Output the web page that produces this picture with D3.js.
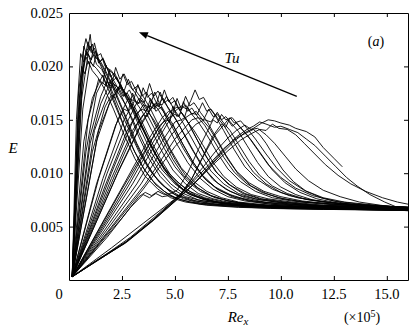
<!DOCTYPE html>
<html>
<head>
<meta charset="utf-8">
<script src="https://cdn.jsdelivr.net/npm/d3@7"></script>
<style>
  html, body { margin: 0; padding: 0; background: #fff; }
  svg { display: block; }
</style>
</head>
<body>
<svg id="chart" width="417" height="328"></svg>
<script>
// Axis ticks
const xTicks = [0, 2.5, 5, 7.5, 10, 12.5, 15];
const xTickLabels = ["0", "2.5", "5.0", "7.5", "10.0", "12.5", "15.0"];
const yTicks = [0.005, 0.010, 0.015, 0.020, 0.025];
const yTickLabels = ["0.005", "0.010", "0.015", "0.020", "0.025"];

// Energy profiles E(Re_x), Re_x in units of 1e5.
// Highest turbulence intensity: peaks near Re_x ~ 1
const groupA = [
  [[0.15,.0003],[0.35,.0150],[0.55,.0212],[0.7,.0204],[0.85,.0214],[1.05,.0203],[1.3,.0198],[1.6,.0190],[2.0,.0172],[2.5,.0148],[3.0,.0124],[3.5,.0105],[4.0,.0092],[4.5,.0083],[5.0,.0077],[5.7,.0073],[7,.0070],[9,.0068],[11,.0067],[13.5,.0066],[16,.0065]],
  [[0.15,.0003],[0.45,.0160],[0.65,.0212],[0.8,.0226],[0.95,.0215],[1.1,.0221],[1.25,.0208],[1.45,.0206],[1.75,.0195],[2.2,.0176],[2.7,.0152],[3.2,.0128],[3.7,.0108],[4.2,.0093],[4.8,.0082],[5.4,.0076],[6.2,.0072],[7.5,.0070],[9.5,.0068],[12,.0067],[14,.0066],[16,.0066]],
  [[0.15,.0003],[0.5,.0155],[0.75,.0210],[0.9,.0217],[1.0,.0230],[1.1,.0212],[1.25,.0214],[1.4,.0203],[1.6,.0207],[1.9,.0194],[2.3,.0180],[2.8,.0158],[3.3,.0134],[3.8,.0113],[4.3,.0097],[4.9,.0085],[5.5,.0078],[6.3,.0074],[7.5,.0071],[9,.0069],[11,.0068],[13,.0067],[16,.0066]],
  [[0.15,.0003],[0.7,.0219],[0.85,.0210],[1.0,.0219],[1.15,.0211],[1.35,.0207],[1.6,.0199],[2.0,.0183],[2.5,.0160],[3.0,.0135],[3.5,.0114],[4.0,.0098],[4.6,.0086],[5.2,.0079],[6.0,.0074],[7,.0071],[8.5,.0069],[10.5,.0068],[13,.0067],[16,.0066]],
  [[0.15,.0003],[0.6,.0170],[0.9,.0212],[1.05,.0206],[1.2,.0222],[1.35,.0210],[1.5,.0212],[1.7,.0200],[2.0,.0196],[2.4,.0183],[2.9,.0163],[3.4,.0140],[3.9,.0119],[4.4,.0103],[5.0,.0090],[5.6,.0081],[6.3,.0076],[7.2,.0072],[8.5,.0070],[10,.0069],[12,.0068],[14,.0067],[16,.0066]],
  [[0.15,.0003],[0.55,.0185],[0.75,.0208],[0.9,.0223],[1.05,.0213],[1.2,.0217],[1.4,.0205],[1.7,.0192],[2.1,.0170],[2.6,.0144],[3.1,.0120],[3.6,.0102],[4.1,.0089],[4.7,.0080],[5.3,.0075],[6.2,.0071],[7.5,.0069],[9.5,.0067],[12,.0066],[14,.0066],[16,.0065]],
  [[0.15,.0003],[0.65,.0160],[1.0,.0205],[1.15,.0200],[1.3,.0213],[1.45,.0204],[1.6,.0208],[1.8,.0198],[2.1,.0193],[2.5,.0180],[3.0,.0162],[3.5,.0141],[4.0,.0121],[4.5,.0105],[5.1,.0092],[5.7,.0083],[6.4,.0077],[7.3,.0073],[8.5,.0071],[10,.0069],[12,.0068],[14,.0067],[16,.0066]],
  [[0.15,.0003],[0.45,.0175],[0.6,.0200],[0.75,.0193],[0.9,.0205],[1.1,.0196],[1.35,.0190],[1.7,.0178],[2.1,.0160],[2.6,.0136],[3.1,.0114],[3.6,.0097],[4.2,.0085],[4.8,.0077],[5.5,.0073],[6.5,.0070],[8,.0068],[10,.0067],[12.5,.0066],[16,.0065]],
  [[0.15,.0003],[0.4,.0140],[0.6,.0190],[0.8,.0209],[0.95,.0202],[1.15,.0211],[1.3,.0202],[1.55,.0197],[1.9,.0183],[2.3,.0164],[2.8,.0142],[3.3,.0120],[3.8,.0103],[4.4,.0089],[5.0,.0080],[5.7,.0075],[6.8,.0071],[8.5,.0069],[11,.0067],[13.5,.0066],[16,.0065]]
];

// Peaks between Re_x ~ 1.5 and 3
const groupB = [
  [[0.15,.0003],[0.8,.0120],[1.3,.0175],[1.55,.0185],[1.75,.0182],[1.9,.0196],[2.05,.0186],[2.25,.0190],[2.5,.0180],[2.8,.0171],[3.2,.0155],[3.7,.0134],[4.2,.0114],[4.7,.0098],[5.3,.0086],[5.9,.0079],[6.6,.0074],[7.5,.0071],[9,.0069],[11,.0068],[13,.0067],[16,.0066]],
  [[0.15,.0003],[1.0,.0135],[1.5,.0172],[1.8,.0186],[2.0,.0181],[2.2,.0199],[2.4,.0188],[2.6,.0193],[2.85,.0182],[3.1,.0176],[3.5,.0162],[4.0,.0143],[4.5,.0123],[5.0,.0106],[5.6,.0092],[6.2,.0083],[6.9,.0077],[7.8,.0073],[9,.0070],[11,.0068],[13,.0067],[16,.0066]],
  [[0.15,.0003],[1.2,.0140],[1.8,.0172],[2.1,.0184],[2.35,.0179],[2.55,.0193],[2.75,.0183],[2.95,.0186],[3.2,.0176],[3.5,.0168],[3.9,.0152],[4.4,.0132],[4.9,.0113],[5.4,.0098],[6.0,.0087],[6.7,.0079],[7.5,.0074],[8.5,.0071],[10,.0069],[12,.0068],[14,.0067],[16,.0066]],
  [[0.15,.0003],[0.7,.0130],[1.1,.0170],[1.4,.0184],[1.6,.0192],[1.8,.0181],[2.0,.0188],[2.3,.0176],[2.7,.0163],[3.2,.0142],[3.7,.0121],[4.2,.0104],[4.8,.0090],[5.4,.0081],[6.1,.0075],[7,.0072],[8.5,.0069],[10.5,.0068],[13,.0067],[16,.0066]],
  [[0.15,.0003],[1.4,.0140],[2.0,.0170],[2.4,.0180],[2.6,.0177],[2.8,.0188],[3.0,.0178],[3.25,.0182],[3.5,.0172],[3.85,.0160],[4.3,.0142],[4.8,.0122],[5.3,.0105],[5.9,.0092],[6.5,.0083],[7.2,.0077],[8,.0073],[9.5,.0070],[11,.0069],[13,.0068],[16,.0066]],
  [[0.15,.0003],[1.0,.0128],[1.5,.0165],[1.8,.0178],[2.0,.0186],[2.2,.0177],[2.45,.0183],[2.7,.0170],[3.0,.0160],[3.5,.0140],[4.0,.0120],[4.5,.0103],[5.1,.0089],[5.7,.0080],[6.4,.0075],[7.3,.0072],[8.5,.0070],[10,.0068],[12,.0067],[14,.0066],[16,.0066]],
  [[0.15,.0003],[1.3,.0130],[1.9,.0165],[2.2,.0175],[2.4,.0182],[2.6,.0172],[2.85,.0178],[3.1,.0168],[3.45,.0158],[3.9,.0140],[4.4,.0120],[4.9,.0103],[5.5,.0090],[6.1,.0081],[6.8,.0076],[7.7,.0072],[9,.0070],[11,.0068],[13,.0067],[16,.0066]],
  [[0.15,.0003],[0.9,.0150],[1.4,.0188],[1.6,.0184],[1.75,.0201],[1.95,.0190],[2.15,.0194],[2.4,.0183],[2.8,.0170],[3.3,.0150],[3.8,.0128],[4.3,.0110],[4.9,.0094],[5.5,.0083],[6.2,.0077],[7,.0073],[8.2,.0070],[10,.0068],[12,.0067],[14,.0067],[16,.0066]],
  [[0.15,.0003],[1.1,.0120],[1.7,.0162],[2.0,.0173],[2.2,.0170],[2.35,.0180],[2.55,.0172],[2.75,.0175],[3.0,.0166],[3.35,.0152],[3.8,.0133],[4.3,.0114],[4.8,.0098],[5.4,.0087],[6.0,.0079],[6.8,.0074],[7.8,.0071],[9.5,.0069],[12,.0067],[14,.0067],[16,.0066]]
];

// Peaks between Re_x ~ 3 and 4.5
const groupC = [
  [[0.15,.0003],[1.4,.0095],[2.3,.0150],[2.8,.0170],[3.05,.0168],[3.25,.0183],[3.45,.0172],[3.65,.0176],[3.9,.0166],[4.2,.0160],[4.6,.0146],[5.1,.0127],[5.6,.0110],[6.2,.0095],[6.8,.0085],[7.5,.0078],[8.3,.0074],[9.5,.0071],[11,.0069],[13,.0068],[16,.0066]],
  [[0.15,.0003],[1.6,.0095],[2.6,.0150],[3.1,.0168],[3.3,.0165],[3.5,.0180],[3.7,.0171],[3.9,.0175],[4.15,.0165],[4.45,.0158],[4.9,.0142],[5.4,.0123],[5.9,.0107],[6.5,.0093],[7.1,.0084],[7.8,.0078],[8.7,.0074],[10,.0071],[11.5,.0069],[13.5,.0068],[16,.0067]],
  [[0.15,.0003],[1.8,.0100],[2.8,.0150],[3.3,.0170],[3.55,.0166],[3.8,.0184],[4.0,.0172],[4.2,.0177],[4.45,.0168],[4.8,.0158],[5.2,.0145],[5.7,.0126],[6.2,.0109],[6.8,.0094],[7.4,.0085],[8.1,.0079],[9,.0075],[10.5,.0071],[12,.0069],[14,.0068],[16,.0067]],
  [[0.15,.0003],[2.0,.0100],[3.0,.0148],[3.5,.0164],[3.8,.0162],[4.05,.0176],[4.25,.0166],[4.45,.0170],[4.7,.0160],[5.0,.0152],[5.4,.0138],[5.9,.0120],[6.4,.0104],[7.0,.0091],[7.6,.0083],[8.3,.0077],[9.2,.0073],[10.5,.0071],[12,.0069],[14,.0068],[16,.0067]],
  [[0.15,.0003],[2.2,.0100],[3.2,.0145],[3.8,.0163],[4.05,.0160],[4.3,.0176],[4.5,.0166],[4.7,.0169],[4.95,.0160],[5.3,.0150],[5.7,.0136],[6.2,.0118],[6.7,.0102],[7.3,.0090],[8.0,.0081],[8.8,.0076],[9.8,.0073],[11,.0071],[12.5,.0069],[14,.0068],[16,.0067]],
  [[0.15,.0003],[2.3,.0100],[3.4,.0145],[4.0,.0165],[4.25,.0162],[4.5,.0178],[4.7,.0167],[4.9,.0171],[5.15,.0161],[5.5,.0152],[5.9,.0137],[6.4,.0118],[6.9,.0102],[7.5,.0090],[8.2,.0081],[9,.0076],[10,.0073],[11.5,.0070],[13,.0069],[14.5,.0068],[16,.0067]],
  [[0.15,.0003],[1.3,.0090],[2.2,.0145],[2.6,.0160],[2.8,.0158],[3.0,.0175],[3.2,.0165],[3.4,.0168],[3.7,.0158],[4.0,.0150],[4.5,.0132],[5.0,.0113],[5.5,.0098],[6.1,.0086],[6.7,.0079],[7.5,.0074],[8.5,.0071],[10,.0069],[12,.0068],[14,.0067],[16,.0066]],
  [[0.15,.0003],[2.0,.0095],[3.0,.0140],[3.5,.0155],[3.7,.0153],[3.9,.0168],[4.1,.0158],[4.35,.0162],[4.6,.0152],[4.95,.0143],[5.4,.0126],[5.9,.0109],[6.4,.0095],[7.0,.0085],[7.7,.0078],[8.5,.0074],[9.5,.0071],[11,.0069],[13,.0068],[16,.0066]],
  [[0.15,.0003],[1.7,.0088],[2.7,.0138],[3.2,.0156],[3.45,.0160],[3.65,.0158],[3.85,.0170],[4.05,.0162],[4.3,.0165],[4.55,.0156],[4.9,.0146],[5.3,.0130],[5.8,.0112],[6.3,.0098],[6.9,.0087],[7.6,.0080],[8.4,.0075],[9.5,.0072],[11,.0070],[13,.0068],[16,.0067]],
  [[0.15,.0003],[2.4,.0105],[3.5,.0150],[4.1,.0166],[4.4,.0164],[4.6,.0172],[4.8,.0165],[5.0,.0168],[5.25,.0158],[5.6,.0148],[6.0,.0133],[6.5,.0115],[7.0,.0100],[7.6,.0089],[8.3,.0081],[9.1,.0076],[10.2,.0073],[11.7,.0070],[13.5,.0069],[16,.0067]]
];

// Peaks between Re_x ~ 5 and 6.5
const groupD = [
  [[0.15,.0003],[2.6,.0090],[3.8,.0133],[4.4,.0152],[4.7,.0158],[4.9,.0156],[5.1,.0170],[5.3,.0160],[5.5,.0164],[5.8,.0155],[6.1,.0148],[6.5,.0136],[7.0,.0119],[7.5,.0104],[8.1,.0092],[8.8,.0083],[9.6,.0077],[10.5,.0074],[12,.0071],[14,.0069],[16,.0067]],
  [[0.15,.0003],[3.0,.0090],[4.3,.0135],[5.0,.0158],[5.3,.0163],[5.55,.0160],[5.75,.0168],[5.95,.0178],[6.15,.0169],[6.35,.0171],[6.6,.0162],[6.9,.0154],[7.3,.0140],[7.8,.0122],[8.3,.0106],[8.9,.0094],[9.6,.0085],[10.4,.0079],[11.3,.0075],[12.5,.0072],[14,.0070],[16,.0068]],
  [[0.15,.0003],[2.8,.0088],[4.0,.0130],[4.7,.0152],[5.0,.0155],[5.2,.0153],[5.4,.0167],[5.6,.0158],[5.8,.0161],[6.1,.0152],[6.4,.0145],[6.8,.0132],[7.3,.0115],[7.8,.0101],[8.4,.0090],[9.1,.0082],[9.9,.0077],[11,.0073],[12.5,.0071],[14,.0069],[16,.0067]],
  [[0.15,.0003],[3.2,.0090],[4.4,.0130],[5.0,.0148],[5.3,.0150],[5.45,.0152],[5.6,.0162],[5.8,.0155],[6.0,.0158],[6.3,.0150],[6.6,.0143],[7.0,.0130],[7.5,.0113],[8.0,.0099],[8.6,.0088],[9.3,.0081],[10.1,.0076],[11.2,.0073],[12.5,.0071],[14,.0069],[16,.0068]],
  [[0.15,.0003],[3.4,.0090],[4.8,.0135],[5.5,.0152],[5.8,.0156],[6.05,.0155],[6.3,.0166],[6.5,.0158],[6.7,.0160],[7.0,.0152],[7.3,.0145],[7.7,.0132],[8.2,.0115],[8.7,.0101],[9.3,.0090],[10,.0082],[10.8,.0077],[11.8,.0074],[13,.0071],[14.5,.0069],[16,.0068]],
  [[0.15,.0003],[2.5,.0085],[3.7,.0125],[4.3,.0145],[4.6,.0150],[4.75,.0148],[4.9,.0163],[5.1,.0153],[5.3,.0157],[5.6,.0148],[5.9,.0140],[6.3,.0127],[6.8,.0110],[7.3,.0097],[7.9,.0087],[8.6,.0080],[9.4,.0076],[10.5,.0073],[12,.0070],[14,.0069],[16,.0067]],
  [[0.15,.0003],[3.6,.0090],[5.0,.0132],[5.8,.0150],[6.1,.0152],[6.35,.0150],[6.6,.0160],[6.8,.0153],[7.0,.0155],[7.3,.0147],[7.6,.0140],[8.0,.0127],[8.5,.0111],[9.0,.0098],[9.6,.0088],[10.3,.0081],[11.1,.0076],[12,.0073],[13.2,.0071],[14.5,.0069],[16,.0068]],
  [[0.15,.0003],[2.9,.0095],[4.1,.0138],[4.8,.0158],[5.1,.0162],[5.3,.0159],[5.5,.0172],[5.7,.0163],[5.9,.0166],[6.2,.0157],[6.5,.0149],[6.9,.0135],[7.4,.0117],[7.9,.0102],[8.5,.0091],[9.2,.0083],[10,.0078],[11,.0074],[12.5,.0071],[14,.0069],[16,.0067]]
];

// Peaks between Re_x ~ 7 and 7.6, some with a plateau near E = 0.008
const groupE = [
  [[0.15,.0003],[1.5,.0035],[2.5,.0058],[3.3,.0078],[3.6,.0082],[3.9,.0079],[4.2,.0083],[4.5,.0080],[4.8,.0081],[5.1,.0084],[5.6,.0100],[6.1,.0122],[6.5,.0138],[6.8,.0150],[7.0,.0147],[7.2,.0155],[7.4,.0150],[7.7,.0152],[8.0,.0145],[8.4,.0136],[8.9,.0122],[9.4,.0108],[10,.0096],[10.7,.0086],[11.5,.0079],[12.5,.0074],[13.7,.0071],[15,.0069],[16,.0068]],
  [[0.15,.0003],[1.8,.0040],[2.9,.0068],[3.5,.0080],[3.8,.0077],[4.1,.0081],[4.4,.0078],[4.7,.0079],[5.0,.0077],[5.3,.0080],[5.8,.0095],[6.3,.0115],[6.8,.0135],[7.2,.0146],[7.4,.0143],[7.6,.0152],[7.8,.0147],[8.1,.0149],[8.4,.0142],[8.8,.0132],[9.3,.0118],[9.8,.0105],[10.4,.0093],[11.1,.0084],[12,.0077],[13,.0073],[14.5,.0070],[16,.0068]],
  [[0.15,.0003],[3.5,.0085],[5.0,.0125],[6.0,.0146],[6.4,.0150],[6.7,.0148],[7.0,.0157],[7.2,.0150],[7.4,.0153],[7.7,.0146],[8.0,.0139],[8.4,.0126],[8.9,.0110],[9.4,.0097],[10,.0087],[10.7,.0080],[11.5,.0075],[12.5,.0072],[14,.0070],[16,.0068]],
  [[0.15,.0003],[2.0,.0030],[3.5,.0053],[5.2,.0079],[5.8,.0095],[6.4,.0118],[6.9,.0136],[7.3,.0145],[7.5,.0150],[7.7,.0144],[7.9,.0147],[8.2,.0140],[8.6,.0131],[9.1,.0117],[9.6,.0103],[10.2,.0091],[10.9,.0082],[11.7,.0076],[12.7,.0072],[14,.0070],[16,.0068]]
];

// Lowest turbulence intensity: slow laminar rise, peaks near Re_x ~ 8.5-9.5
const groupF = [
  [[0.15,.0003],[1.5,.0021],[2.7,.0036],[4.0,.0057],[5.2,.0078],[5.8,.0088],[6.5,.0103],[7.2,.0118],[7.8,.0130],[8.3,.0138],[8.7,.0142],[9.1,.0147],[9.4,.0150],[9.7,.0149],[10.0,.0147],[10.4,.0145],[10.7,.0142],[11.2,.0139],[11.6,.0134],[12.0,.0124],[12.5,.0114],[12.9,.0106]],
  [[0.15,.0003],[1.4,.0019],[2.7,.0035],[4.0,.0056],[5.2,.0077],[5.9,.0090],[6.6,.0106],[7.3,.0122],[7.9,.0134],[8.4,.0141],[8.7,.0144],[9.0,.0148],[9.3,.0146],[9.7,.0143],[10.0,.0144],[10.4,.0141],[10.8,.0138],[11.2,.0132],[11.6,.0126],[12.1,.0116],[12.6,.0106],[13.1,.0096],[13.6,.0088],[14.2,.0080],[14.9,.0073],[15.5,.0068],[16,.0066]],
  [[0.15,.0003],[1.6,.0022],[2.9,.0040],[4.1,.0060],[5.2,.0079],[5.9,.0093],[6.6,.0108],[7.3,.0123],[7.9,.0133],[8.3,.0137],[8.7,.0141],[9.0,.0136],[9.3,.0128],[9.7,.0115],[10.1,.0103],[10.6,.0092],[11.2,.0083],[11.9,.0077],[12.7,.0073],[13.5,.0070],[14.5,.0068],[16,.0066]],
  [[0.15,.0003],[1.3,.0018],[2.6,.0034],[3.9,.0055],[5.1,.0077],[5.7,.0090],[6.3,.0105],[6.9,.0120],[7.5,.0133],[7.9,.0140],[8.3,.0145],[8.6,.0141],[8.9,.0142],[9.3,.0136],[9.7,.0128],[10.2,.0116],[10.7,.0104],[11.3,.0093],[12,.0084],[12.8,.0078],[13.7,.0073],[14.7,.0070],[16,.0067]],
  [[0.15,.0003],[1.5,.0020],[2.8,.0037],[4.1,.0058],[5.3,.0079],[6.0,.0092],[6.8,.0108],[7.5,.0121],[8.1,.0131],[8.6,.0137],[9.0,.0141],[9.3,.0140],[9.6,.0146],[9.9,.0142],[10.3,.0141],[10.7,.0136],[11.1,.0128],[11.6,.0118],[12.1,.0108],[12.7,.0098],[13.3,.0090],[14,.0083],[14.8,.0077],[15.5,.0073],[16,.0071]]
];

const serif = "'Liberation Serif', 'Times New Roman', serif";
const svg = d3.select("#chart").attr("font-family", serif);
const margin = { left: 69, right: 9, top: 13, bottom: 48 };
const width = 417, height = 328;
const x0 = margin.left, x1 = width - margin.right;
const y0 = height - margin.bottom, y1 = margin.top;

const x = d3.scaleLinear().domain([0, 16]).range([x0, x1]);
const y = d3.scaleLinear().domain([0, 0.025]).range([y0, y1]);

svg.append("rect").attr("width", width).attr("height", height).attr("fill", "#fff");

svg.append("defs").append("clipPath").attr("id", "plotClip")
  .append("rect").attr("x", x0).attr("y", y1).attr("width", x1 - x0).attr("height", y0 - y1);

const line = d3.line().x(d => x(d[0])).y(d => y(d[1]));

const curves = [].concat(groupA, groupB, groupC, groupD, groupE, groupF);
svg.append("g").attr("clip-path", "url(#plotClip)")
  .selectAll("path").data(curves).join("path")
  .attr("d", line)
  .attr("fill", "none")
  .attr("stroke", "#000")
  .attr("stroke-width", 0.9)
  .attr("stroke-linejoin", "round");

// Frame with inward ticks on all four sides
const tickLen = 4;
const xAxisB = d3.axisBottom(x).tickValues(xTicks.slice(1)).tickSizeInner(-tickLen).tickSizeOuter(0).tickFormat("");
const xAxisT = d3.axisTop(x).tickValues(xTicks.slice(1)).tickSizeInner(-tickLen).tickSizeOuter(0).tickFormat("");
const yAxisL = d3.axisLeft(y).tickValues(yTicks.slice(0, -1)).tickSizeInner(-tickLen).tickSizeOuter(0).tickFormat("");
const yAxisR = d3.axisRight(y).tickValues(yTicks.slice(0, -1)).tickSizeInner(-tickLen).tickSizeOuter(0).tickFormat("");

svg.append("g").attr("transform", `translate(0,${y0})`).call(xAxisB);
svg.append("g").attr("transform", `translate(0,${y1})`).call(xAxisT);
svg.append("g").attr("transform", `translate(${x0},0)`).call(yAxisL);
svg.append("g").attr("transform", `translate(${x1},0)`).call(yAxisR);
svg.selectAll(".domain").attr("stroke", "#000").attr("stroke-width", 1);
svg.selectAll(".tick line").attr("stroke", "#000").attr("stroke-width", 1);

// Tick labels
const fs = 14.5;
svg.append("g").selectAll("text").data(xTicks).join("text")
  .attr("font-family", serif)
  .attr("x", (d, i) => i === 0 ? x(d) - 10 : x(d))
  .attr("y", y0 + 19)
  .attr("text-anchor", "middle")
  .attr("font-size", fs)
  .text((d, i) => xTickLabels[i]);

svg.append("g").selectAll("text").data(yTicks).join("text")
  .attr("font-family", serif)
  .attr("x", x0 - 6)
  .attr("y", d => y(d) + 5)
  .attr("text-anchor", "end")
  .attr("font-size", fs)
  .text((d, i) => yTickLabels[i]);

// Axis titles
svg.append("text").attr("font-family", serif).attr("x", 13).attr("y", 153).attr("text-anchor", "middle")
  .attr("font-size", 15).attr("font-style", "italic").text("E");

const rex = svg.append("text").attr("font-family", serif).attr("x", 238).attr("y", 322).attr("text-anchor", "middle").attr("font-size", 15);
rex.append("tspan").attr("font-style", "italic").text("Re");
rex.append("tspan").attr("font-style", "italic").attr("font-size", 11).attr("dy", 3).text("x");

const mult = svg.append("text").attr("font-family", serif).attr("x", 362).attr("y", 322).attr("text-anchor", "middle").attr("font-size", 14);
mult.append("tspan").text("(×10");
mult.append("tspan").attr("font-size", 10).attr("dy", -5).text("5");
mult.append("tspan").attr("dy", 5).text(")");

// Panel label
const pl = svg.append("text").attr("font-family", serif).attr("x", 376).attr("y", 46).attr("text-anchor", "middle").attr("font-size", 14);
pl.append("tspan").text("(");
pl.append("tspan").attr("font-style", "italic").text("a");
pl.append("tspan").text(")");

// Arrow showing increasing turbulence intensity
const arrowFrom = [10.75, 0.0172];
const arrowTo = [3.3, 0.0232];
const ax1 = x(arrowFrom[0]), ay1 = y(arrowFrom[1]);
const ax2 = x(arrowTo[0]), ay2 = y(arrowTo[1]);
const ang = Math.atan2(ay2 - ay1, ax2 - ax1);
const headLen = 9, headW = 3.5;
const bx = ax2 - headLen * Math.cos(ang), by = ay2 - headLen * Math.sin(ang);
svg.append("line").attr("x1", ax1).attr("y1", ay1).attr("x2", bx).attr("y2", by)
  .attr("stroke", "#000").attr("stroke-width", 1.3);
svg.append("path")
  .attr("d", `M${ax2},${ay2}L${bx - headW * Math.sin(ang)},${by + headW * Math.cos(ang)}L${bx + headW * Math.sin(ang)},${by - headW * Math.cos(ang)}Z`)
  .attr("fill", "#000");

svg.append("text").attr("font-family", serif).attr("x", 232).attr("y", 63).attr("text-anchor", "middle")
  .attr("font-size", 15).attr("font-style", "italic").text("Tu");
</script>
</body>
</html>
